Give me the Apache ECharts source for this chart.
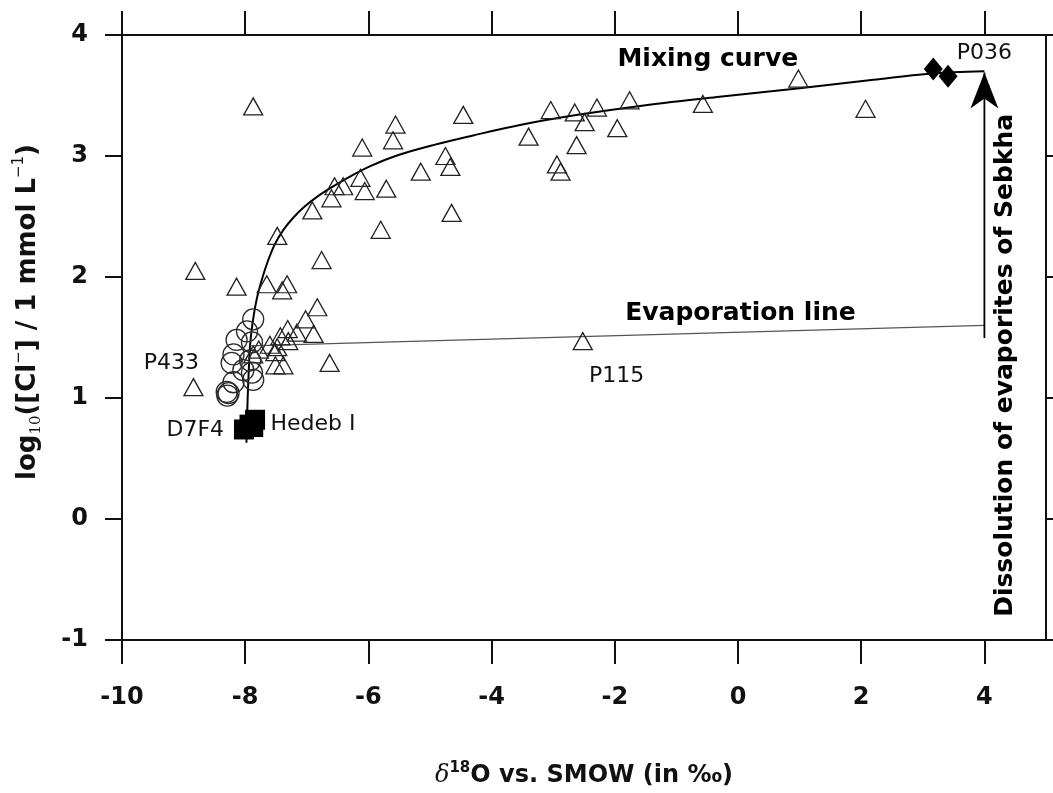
<!DOCTYPE html>
<html>
<head>
<meta charset="utf-8">
<script src="https://cdn.jsdelivr.net/npm/echarts@6/dist/echarts.min.js"></script>
<style>
html,body{margin:0;padding:0;background:#fff}
#chart{width:1053px;height:793px}
</style>
</head>
<body>
<div id="chart"></div>
<script>
// groundwater samples (open triangles)
var triX = [-7.87,-5.56,-5.60,-4.46,-6.10,-3.40,-4.75,-4.67,-5.15,-6.13,-6.41,-6.55,-6.60,-6.06,-5.71,-6.91,-4.65,-5.80,-7.48,
  -3.04,-2.65,-2.49,-2.29,-2.62,-2.94,-2.88,-1.96,-1.76,-0.57,0.98,2.07,
  -8.81,-8.14,-7.65,-7.32,-7.40,-6.76,-6.83,-7.02,-7.31,-7.16,-6.89,-7.43,-7.30,-7.48,-7.60,-7.51,-7.78,-7.87,-7.51,-7.38,-6.63,-8.84,-2.52];
var triY = [3.41,3.26,3.13,3.34,3.07,3.16,3.00,2.91,2.87,2.82,2.75,2.75,2.65,2.71,2.73,2.55,2.53,2.39,2.34,
  3.38,3.36,3.28,3.40,3.09,2.93,2.87,3.23,3.46,3.43,3.64,3.39,
  2.05,1.92,1.94,1.94,1.89,2.14,1.75,1.65,1.57,1.54,1.53,1.51,1.47,1.42,1.44,1.38,1.40,1.36,1.27,1.27,1.29,1.09,1.47];

// open circles
var circX = [-7.87,-7.97,-8.14,-7.89,-8.19,-8.22,-7.92,-8.03,-7.89,-7.87,-8.19,-8.30,-8.29,-8.27];
var circY = [1.65,1.55,1.48,1.46,1.36,1.29,1.31,1.23,1.21,1.15,1.13,1.05,1.02,1.04];

// Hedeb I / D7F4 (filled squares)
var sqX = [-8.02,-7.93,-7.84,-7.87];
var sqY = [0.74,0.78,0.82,0.76];

// P036 (filled diamonds)
var diaX = [3.17,3.41];
var diaY = [3.72,3.66];

// mixing curve
var mixX = [-7.98,-7.96,-7.94,-7.92,-7.88,-7.82,-7.74,-7.64,-7.52,-7.38,-7.22,-7.04,-6.84,-6.60,-6.30,-5.95,-5.50,-4.95,-4.30,-3.50,-2.60,-1.50,-0.30,1.00,2.20,3.10,4.00];
var mixY = [0.63,1.00,1.25,1.44,1.62,1.80,1.96,2.12,2.27,2.39,2.49,2.58,2.66,2.74,2.83,2.92,3.01,3.09,3.17,3.26,3.34,3.42,3.49,3.56,3.63,3.68,3.70];

// evaporation line and dissolution arrow
var evapX = [-7.92,4.0];
var evapY = [1.43,1.60];
var arrowX = [4.0,4.0];
var arrowY = [1.495,3.69];

// axis ticks
var xTicks = [-10,-8,-6,-4,-2,0,2,4];
var yTicks = [-1,0,1,2,3,4];

// annotations
var smallText = ['P036','P433','P115','D7F4','Hedeb I'];
var smallX = [4.0,-9.20,-1.97,-8.81,-6.90];
var smallY = [3.846,1.289,1.183,0.737,0.786];
var bigText = ['Mixing curve','Evaporation line'];
var bigX = [-0.49,0.04];
var bigY = [3.80,1.70];
var sideText = ['Dissolution of evaporites of Sebkha'];
var sideX = [4.35];
var sideY = [1.27];

function pairs(xs, ys) {
  return xs.map(function (x, i) { return [x, ys[i]]; });
}
function named(names, xs, ys) {
  return names.map(function (n, i) { return {name: n, value: [xs[i], ys[i]]}; });
}

var FONT = 'DejaVu Sans';
var ink = '#111';
var axisLine = {show: true, onZero: false, lineStyle: {color: ink, width: 2}};
var noLabelItem = {color: 'rgba(0,0,0,0)', opacity: 1};

var myChart = echarts.init(document.getElementById('chart'));
myChart.setOption({
  animation: false,
  backgroundColor: '#fff',
  grid: {left: 122, right: 7, top: 35, bottom: 142},
  xAxis: [{
    type: 'value', min: -10, max: 5, position: 'bottom',
    axisLine: axisLine,
    axisTick: {show: true, inside: false, length: 24, customValues: xTicks, lineStyle: {color: ink, width: 2}},
    axisLabel: {customValues: xTicks, margin: 46, fontFamily: FONT, fontWeight: 'bold', fontSize: 24, color: ink},
    splitLine: {show: false},
    name: '{d|δ}{s|18}{b|O vs. SMOW (in ‰)}',
    nameLocation: 'middle', nameGap: 121,
    nameTextStyle: {
      rich: {
        d: {fontFamily: 'DejaVu Serif', fontStyle: 'italic', fontSize: 24, color: ink, lineHeight: 30, verticalAlign: 'middle'},
        s: {fontFamily: FONT, fontWeight: 'bold', fontSize: 15, color: ink, lineHeight: 15, verticalAlign: 'top'},
        b: {fontFamily: FONT, fontWeight: 'bold', fontSize: 24, color: ink, lineHeight: 30, verticalAlign: 'middle'}
      }
    }
  }, {
    type: 'value', min: -10, max: 5, position: 'top',
    axisLine: axisLine,
    axisTick: {show: true, inside: false, length: 24, customValues: xTicks, lineStyle: {color: ink, width: 2}},
    axisLabel: {show: false},
    splitLine: {show: false}
  }],
  yAxis: [{
    type: 'value', min: -1, max: 4, interval: 1, position: 'left',
    axisLine: axisLine,
    axisTick: {show: true, inside: false, length: 17, customValues: yTicks, lineStyle: {color: ink, width: 2}},
    axisLabel: {customValues: yTicks, margin: 34, fontFamily: FONT, fontWeight: 'bold', fontSize: 24, color: ink},
    splitLine: {show: false}
  }, {
    type: 'value', min: -1, max: 4, interval: 1, position: 'right',
    axisLine: axisLine,
    axisTick: {show: true, inside: false, length: 17, customValues: yTicks, lineStyle: {color: ink, width: 2}},
    axisLabel: {show: false},
    splitLine: {show: false}
  }],
  graphic: [{
    type: 'text', x: 28, y: 312, rotation: Math.PI / 2,
    style: {
      text: '{a|log}{s|10}{a|([Cl}{p|−}{a|] / 1 mmol L}{p|−1}{a|)}',
      align: 'center', verticalAlign: 'middle',
      rich: {
        a: {fontFamily: FONT, fontWeight: 'bold', fontSize: 26, fill: ink, lineHeight: 32, verticalAlign: 'middle'},
        s: {fontFamily: 'DejaVu Serif', fontSize: 15, fill: ink, lineHeight: 15, verticalAlign: 'bottom'},
        p: {fontFamily: FONT, fontSize: 15, fill: ink, lineHeight: 15, verticalAlign: 'top'}
      }
    }
  }],
  series: [{
    type: 'line', data: pairs(mixX, mixY), smooth: 0.35, symbol: 'none',
    lineStyle: {color: '#000', width: 2}, z: 3
  }, {
    type: 'line', data: pairs(evapX, evapY), symbol: 'none',
    lineStyle: {color: '#555', width: 1.3}, z: 3
  }, {
    type: 'line', data: pairs(arrowX, arrowY), symbol: 'none',
    lineStyle: {color: '#000', width: 1.8}, z: 3
  }, {
    type: 'scatter', data: [[arrowX[1], arrowY[1]]],
    symbol: 'path://M14,0 L28,36 L14,26 L0,36 Z', symbolSize: [28, 36], symbolOffset: [0, 18],
    itemStyle: {color: '#000', opacity: 1}, z: 6
  }, {
    type: 'scatter', data: pairs(triX, triY), symbol: 'triangle', symbolSize: [19, 17],
    itemStyle: {color: 'rgba(0,0,0,0)', borderColor: '#222', borderWidth: 1.3, opacity: 1}, z: 4
  }, {
    type: 'scatter', data: pairs(circX, circY), symbol: 'circle', symbolSize: 21,
    itemStyle: {color: 'rgba(0,0,0,0)', borderColor: '#2a2a2a', borderWidth: 1.3, opacity: 1}, z: 4
  }, {
    type: 'scatter', data: pairs(sqX, sqY), symbol: 'rect', symbolSize: 20,
    itemStyle: {color: '#000', opacity: 1}, z: 5
  }, {
    type: 'scatter', data: pairs(diaX, diaY), symbol: 'diamond', symbolSize: [19, 23],
    itemStyle: {color: '#000', opacity: 1}, z: 5
  }, {
    type: 'scatter', data: named(smallText, smallX, smallY), symbolSize: 1,
    itemStyle: noLabelItem,
    label: {show: true, position: 'inside', formatter: '{b}', fontFamily: FONT, fontSize: 22, color: '#111'}, z: 7
  }, {
    type: 'scatter', data: named(bigText, bigX, bigY), symbolSize: 1,
    itemStyle: noLabelItem,
    label: {show: true, position: 'inside', formatter: '{b}', fontFamily: FONT, fontWeight: 'bold', fontSize: 25, color: '#000'}, z: 7
  }, {
    type: 'scatter', data: named(sideText, sideX, sideY), symbolSize: 1,
    itemStyle: noLabelItem,
    label: {show: true, position: 'inside', rotate: 90, formatter: '{b}', fontFamily: FONT, fontWeight: 'bold', fontSize: 25, color: '#000'}, z: 7
  }]
});
</script>
</body>
</html>
